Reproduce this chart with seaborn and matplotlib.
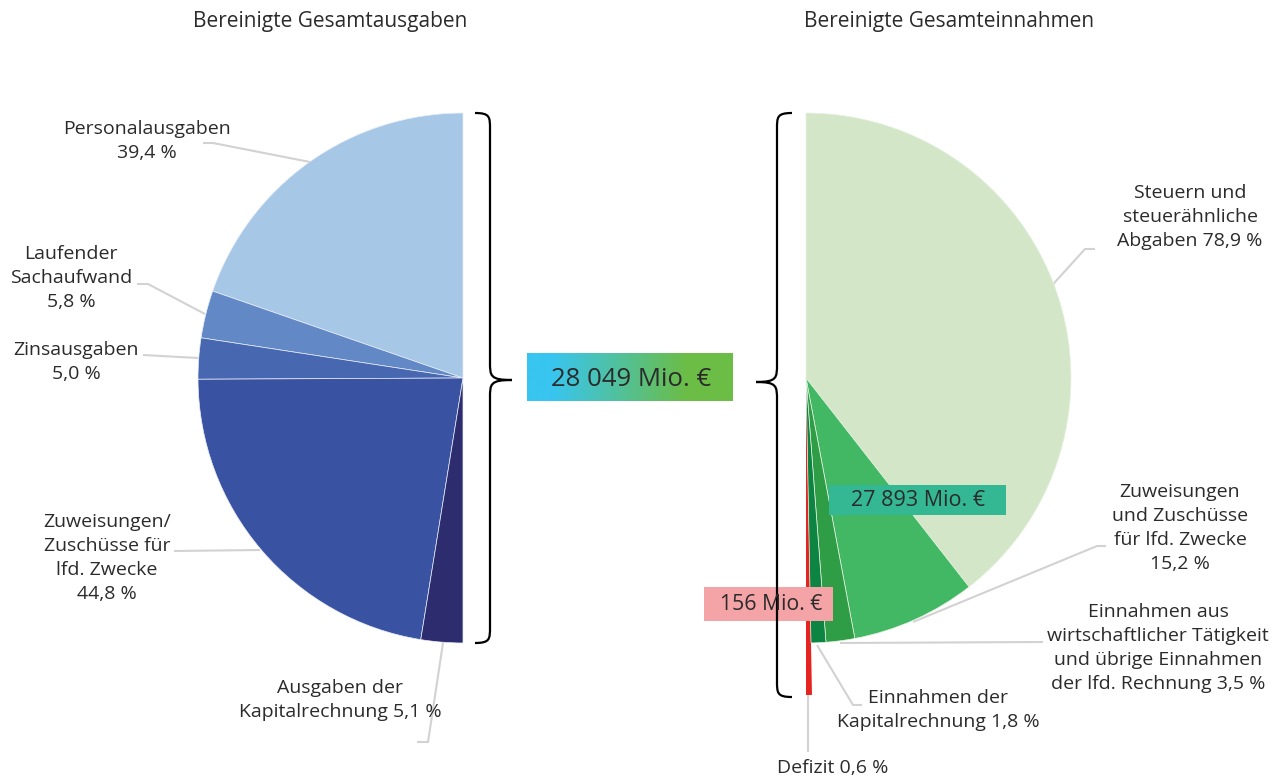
import matplotlib
matplotlib.use("Agg")
import matplotlib.pyplot as plt
import seaborn as sns
import numpy as np
from matplotlib.path import Path
from matplotlib.patches import PathPatch, Rectangle

# data
ausgaben_labels = ["Personalausgaben\n39,4 %", "Laufender\nSachaufwand\n5,8 %",
                   "Zinsausgaben\n5,0 %", "Zuweisungen/\nZuschüsse für\nlfd. Zwecke\n44,8 %",
                   "Ausgaben der\nKapitalrechnung 5,1 %"]
ausgaben_pct = [39.4, 5.8, 5.0, 44.8, 5.1]
ausgaben_colors = ["#a7c7e7", "#6289c6", "#4767b0", "#3a52a2", "#2d2c6e"]

einnahmen_labels = ["Steuern und\nsteuerähnliche\nAbgaben 78,9 %",
                    "Zuweisungen\nund Zuschüsse\nfür lfd. Zwecke\n15,2 %",
                    "Einnahmen aus\nwirtschaftlicher Tätigkeit\nund übrige Einnahmen\nder lfd. Rechnung 3,5 %",
                    "Einnahmen der\nKapitalrechnung 1,8 %",
                    "Defizit 0,6 %"]
einnahmen_pct = [78.9, 15.2, 3.5, 1.8, 0.6]
einnahmen_colors = ["#d3e7c8", "#42b864", "#2f9d46", "#0d8442", "#e52421"]

titles = ["Bereinigte Gesamtausgaben", "Bereinigte Gesamteinnahmen"]
total_ausgaben = "28 049 Mio. €"
total_einnahmen = "27 893 Mio. €"
defizit_betrag = "156 Mio. €"

W, H = 1281, 780
R = 265


def Y(y):
    # pixel row -> data y
    return H - y


sns.set_theme(style="white")
plt.rcParams['font.family'] = ['Open Sans', 'DejaVu Sans']
TXT = "#2b2b2b"
LINE = "#d2d2d2"

fig = plt.figure(figsize=(W / 100, H / 100), dpi=100)
ax = fig.add_axes([0, 0, 1, 1])

# left half pie (Ausgaben), dummy half made invisible
cl = (463, Y(378))
w_l, _ = ax.pie(ausgaben_pct + [sum(ausgaben_pct)], colors=ausgaben_colors + ["none"],
                startangle=90, counterclock=True, radius=R, center=cl,
                wedgeprops=dict(edgecolor="#e8eef8", linewidth=0.5))
w_l[-1].set_visible(False)

# right half pie (Einnahmen)
cr = (806, Y(378))
w_r, _ = ax.pie(einnahmen_pct + [sum(einnahmen_pct)], colors=einnahmen_colors + ["none"],
                startangle=90, counterclock=False, radius=R, center=cr,
                wedgeprops=dict(edgecolor="#e8f3e4", linewidth=0.5))
w_r[-1].set_visible(False)
w_r[4].set_radius(317)
w_r[4].set_edgecolor("none")
w_r[4].set_zorder(0.5)

# titles
ax.text(330, Y(21), titles[0], ha="center", va="center", fontsize=15, color=TXT)
ax.text(949, Y(21), titles[1], ha="center", va="center", fontsize=15, color=TXT)

# labels with leader lines: (text x, text y, line points)
lab_kw = dict(ha="center", va="center", fontsize=14, color=TXT, linespacing=1.42)
left_pos = [
    (147, 141, [(203, 143), (213, 143), (310, 162)]),
    (71, 278, [(137, 284), (148, 284), (205, 314)]),
    (76, 362, [(143, 355), (198, 358)]),
    (107, 558, [(174, 551), (260, 550)]),
    (340, 700, [(443, 643), (428, 742), (417, 742)]),
]
right_pos = [
    (1190, 217, [(1046, 292), (1085, 249), (1095, 249)]),
    (1180, 528, [(913, 622), (1097, 546), (1106, 546)]),
    (1158, 648, [(840, 643), (1043, 642)]),
    (938, 710, [(817, 645), (853, 705), (862, 705)]),
    (833, 768, [(808, 695), (808, 752)]),
]
for lab, (tx, ty, pts) in zip(ausgaben_labels, left_pos):
    ax.text(tx, Y(ty), lab, **lab_kw)
    xs, ys = zip(*pts)
    ax.plot(xs, [Y(v) for v in ys], color=LINE, lw=1.5, zorder=1, solid_capstyle="butt")
for lab, (tx, ty, pts) in zip(einnahmen_labels, right_pos):
    ax.text(tx, Y(ty), lab, **lab_kw)
    xs, ys = zip(*pts)
    ax.plot(xs, [Y(v) for v in ys], color=LINE, lw=1.5, zorder=0.4, solid_capstyle="butt")


def brace(xe, xv, xt, ytop, ymid, ybot):
    pts = [(xe, ytop), (xv, ytop), (xv, ytop + 4), (xv, ytop + 16),
           (xv, ymid - 18),
           (xv, ymid - 4), (xv, ymid), (xt, ymid),
           (xv, ymid), (xv, ymid + 4), (xv, ymid + 18),
           (xv, ybot - 16),
           (xv, ybot - 4), (xv, ybot), (xe, ybot)]
    codes = [Path.MOVETO, Path.CURVE4, Path.CURVE4, Path.CURVE4,
             Path.LINETO,
             Path.CURVE4, Path.CURVE4, Path.CURVE4,
             Path.CURVE4, Path.CURVE4, Path.CURVE4,
             Path.LINETO,
             Path.CURVE4, Path.CURVE4, Path.CURVE4]
    verts = [(x, Y(y)) for x, y in pts]
    ax.add_patch(PathPatch(Path(verts, codes), fc="none", ec="black", lw=1.6, zorder=3))


brace(475, 490, 512, 113, 380, 643)
brace(792, 777, 756, 113, 382, 697)

# gradient total box
grad = np.linspace(0, 1, 256).reshape(1, -1)
cmap = matplotlib.colors.LinearSegmentedColormap.from_list(
    "bg", [(0, "#38c5f0"), (0.12, "#38c5f0"), (0.78, "#6cbd45"), (1, "#6cbd45")])
ax.imshow(grad, cmap=cmap, extent=[527, 733, Y(401), Y(353)], aspect="auto", zorder=2)
ax.text(631, Y(379), total_ausgaben, ha="center", va="center", fontsize=18.5, color=TXT, zorder=4)

# Einnahmen total box
ax.add_patch(Rectangle((829, Y(515)), 177, 30, fc="#34b894", ec="none", zorder=2))
ax.text(918, Y(501), total_einnahmen, ha="center", va="center", fontsize=15.5, color=TXT, zorder=4)

# Defizit box
ax.add_patch(Rectangle((704, Y(621)), 129, 34, fc="#f4a3a6", ec="none", zorder=2))
ax.text(771, Y(605), defizit_betrag, ha="center", va="center", fontsize=15.3, color=TXT, zorder=4)

ax.set_xlim(0, W)
ax.set_ylim(0, H)
ax.set_aspect("equal")
ax.axis("off")
fig.savefig("out.png", dpi=100)
